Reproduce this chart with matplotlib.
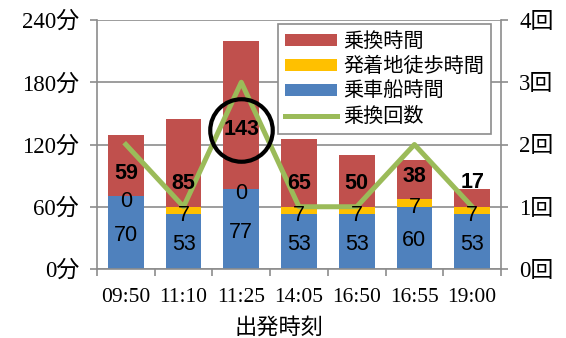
import matplotlib
matplotlib.use('Agg')
import matplotlib.pyplot as plt
import numpy as np

times = ['09:50', '11:10', '11:25', '14:05', '16:50', '16:55', '19:00']
ride = [70, 53, 77, 53, 53, 60, 53]
walk = [0, 7, 0, 7, 7, 7, 7]
transfer_time = [59, 85, 143, 65, 50, 38, 17]
transfers = [2, 1, 3, 1, 1, 2, 1]

serif = ['Liberation Serif', 'Noto Sans CJK JP']
cjk = ['Noto Sans CJK JP', 'DejaVu Sans']
sans = ['Liberation Sans', 'DejaVu Sans']

grey = '#8c8c8c'
red = '#c0504d'
yellow = '#ffc000'
blue = '#4f81bd'
green = '#9bbb59'

fig = plt.figure(figsize=(5.66, 3.38), dpi=100)
ax = fig.add_axes([97/566, 69/338, 404/566, 249/338])
ax2 = ax.twinx()

x = np.arange(len(times))
ride = np.array(ride)
walk = np.array(walk)
transfer_time = np.array(transfer_time)
w = 0.62

b1 = ax.bar(x, ride, w, color=blue, zorder=2)
b2 = ax.bar(x, walk, w, bottom=ride, color=yellow, zorder=2)
b3 = ax.bar(x, transfer_time, w, bottom=ride + walk, color=red, zorder=2)

ax.set_xlim(-0.5, len(times) - 0.5)
ax.set_ylim(0, 240)
ax.set_yticks([0, 60, 120, 180, 240])
ax.set_yticklabels(['%d分' % v for v in [0, 60, 120, 180, 240]],
                   family=serif, fontsize=16.5)
ax.set_xticks(x)
ax.set_xticklabels(times, family=serif, fontsize=15.5)
ax.set_xticks(np.arange(len(times) + 1) - 0.5, minor=True)
ax.tick_params(axis='x', which='major', length=0, pad=14)
ax.tick_params(axis='x', which='minor', length=5, color=grey, width=1.2)
ax.tick_params(axis='y', length=5, color=grey, width=1.2, pad=8)
ax.grid(axis='y', color=grey, linewidth=1.2, zorder=0)
ax.set_axisbelow(True)
for s in ax.spines.values():
    s.set_color(grey)
    s.set_linewidth(1.2)
ax.spines['top'].set_visible(False)

ax2.set_ylim(0, 4)
ax2.set_yticks([0, 1, 2, 3, 4])
ax2.set_yticklabels(['%d回' % v for v in range(5)], family=serif, fontsize=16.5)
ax2.tick_params(axis='y', length=5, color=grey, width=1.2, pad=8)
for s in ax2.spines.values():
    s.set_visible(False)
ln, = ax2.plot(x, transfers, color=green, linewidth=3.6, zorder=3)

# value labels
for i in range(len(times)):
    ax2.text(x[i], (ride[i] / 2 - 3) / 60, str(ride[i]), ha='center',
             va='center', fontsize=15.5, family=sans, zorder=5)
    ax2.text(x[i], (ride[i] + walk[i] / 2 - 4.5) / 60, str(walk[i]),
             ha='center', va='center', fontsize=15.5, family=sans, zorder=5)
    ytop = ride[i] + walk[i]
    yl = ytop + 22
    if i == 2:
        yl = 134
    if transfer_time[i] < 20:
        yl = 83
    ax2.text(x[i], yl / 60, str(transfer_time[i]), ha='center', va='center',
             fontsize=15.5, family=sans, fontweight='bold', zorder=5)

# circle around the longest transfer
ax2.plot([2], [134 / 60], marker='o', markersize=45, markerfacecolor='none',
         markeredgecolor='black', markeredgewidth=3, zorder=6)

leg = ax2.legend([b3, b2, b1, ln],
                 ['乗換時間', '発着地徒歩時間', '乗車船時間', '乗換回数'],
                 loc='upper left', bbox_to_anchor=(278/566, 1 - 24/338),
                 bbox_transform=fig.transFigure, prop={'family': cjk, 'size': 14.5},
                 fancybox=False, edgecolor=grey, framealpha=1,
                 handlelength=2.6, handleheight=0.5, labelspacing=0.2,
                 borderpad=0.35, handletextpad=0.3, borderaxespad=0)
leg.get_frame().set_linewidth(1.2)

fig.text(279/566, 1 - 327/338, '出発時刻', ha='center', va='center',
         family=cjk, fontsize=16)

plt.savefig('out.png', dpi=100)
